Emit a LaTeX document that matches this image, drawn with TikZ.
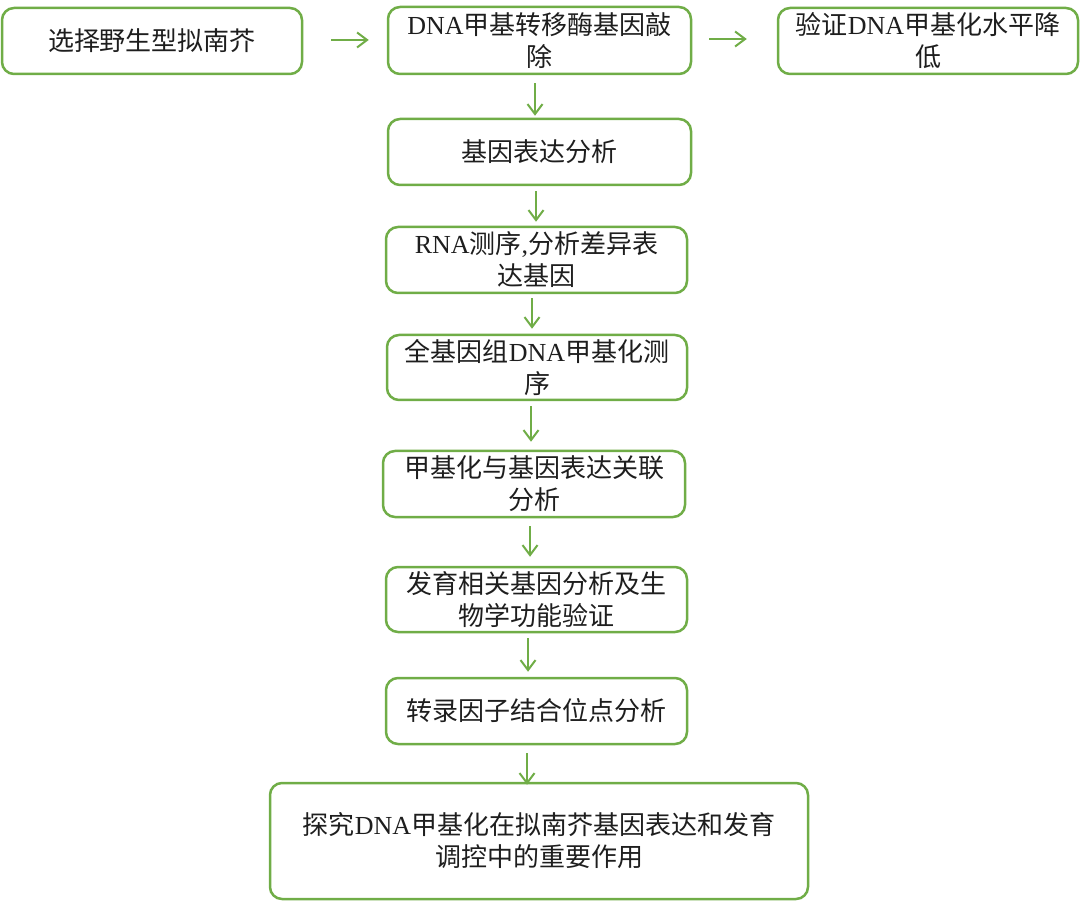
\documentclass[tikz,border=0pt]{standalone}
\usepackage{fontspec}
\setmainfont{Liberation Serif}
\newfontfamily\cjkfont{Noto Sans CJK SC}
\newfontfamily\latfont{Liberation Serif}
\newcommand\en[1]{{\latfont #1}}
\usetikzlibrary{arrows.meta}
\definecolor{boxgreen}{RGB}{112,173,71}
\definecolor{txt}{RGB}{30,30,30}
\tikzset{
  stepbox/.style={draw=boxgreen, line width=2.5pt, rounded corners=12pt,
    align=center, inner sep=0pt, text=txt,
    font=\cjkfont\fontsize{26}{32}\selectfont},
  arr/.style={draw=boxgreen, line width=2pt,
    -{Straight Barb[length=10pt,width=15pt,line width=2pt]}}
}
\begin{document}
\begin{tikzpicture}[x=1pt,y=-1pt]
\useasboundingbox (0,0) rectangle (1080,901);
\node[stepbox, minimum width=300, minimum height=66] (b1) at (152,41) {选择野生型拟南芥};
\node[stepbox, minimum width=303, minimum height=67] (b2) at (539.5,40.5) {\en{DNA}甲基转移酶基因敲\\除};
\node[stepbox, minimum width=300, minimum height=66] (b3) at (928,41) {验证\en{DNA}甲基化水平降\\低};
\node[stepbox, minimum width=303, minimum height=66] (b4) at (539.5,152) {基因表达分析};
\node[stepbox, minimum width=301, minimum height=66] (b5) at (536.5,260) {\en{RNA}测序\en{,}分析差异表\\达基因};
\node[stepbox, minimum width=300, minimum height=65] (b6) at (537,367.5) {全基因组\en{DNA}甲基化测\\序};
\node[stepbox, minimum width=302, minimum height=66] (b7) at (534,484) {甲基化与基因表达关联\\分析};
\node[stepbox, minimum width=301, minimum height=65] (b8) at (536.5,599.5) {发育相关基因分析及生\\物学功能验证};
\node[stepbox, minimum width=301, minimum height=66] (b9) at (536.5,711) {转录因子结合位点分析};
\node[stepbox, minimum width=538, minimum height=116] (b10) at (539,841) {探究\en{DNA}甲基化在拟南芥基因表达和发育\\调控中的重要作用};

\draw[arr, shorten <=28pt, shorten >=18pt] ([yshift=1]b1.east) -- ([yshift=1]b1.east -| b2.west);
\draw[arr, shorten <=17pt, shorten >=30pt] ([yshift=1.5]b2.east) -- ([yshift=1.5]b2.east -| b3.west);
\draw[arr, shorten <=8pt, shorten >=2pt] ([xshift=-4.5]b2.south) -- ([xshift=-4.5]b2.south |- b4.north);
\draw[arr, shorten <=5pt, shorten >=4pt] ([xshift=-3.5]b4.south) -- ([xshift=-3.5]b4.south |- b5.north);
\draw[arr, shorten <=4pt, shorten >=5pt] ([xshift=-4.5]b5.south) -- ([xshift=-4.5]b5.south |- b6.north);
\draw[arr, shorten <=5pt, shorten >=8pt] ([xshift=-6]b6.south) -- ([xshift=-6]b6.south |- b7.north);
\draw[arr, shorten <=8pt, shorten >=9pt] ([xshift=-4]b7.south) -- ([xshift=-4]b7.south |- b8.north);
\draw[arr, shorten <=5pt, shorten >=5pt] ([xshift=-8.5]b8.south) -- ([xshift=-8.5]b8.south |- b9.north);
\draw[arr, shorten <=8pt, shorten >=-3pt] ([xshift=-9.5]b9.south) -- ([xshift=-9.5]b9.south |- b10.north);
\end{tikzpicture}
\end{document}
